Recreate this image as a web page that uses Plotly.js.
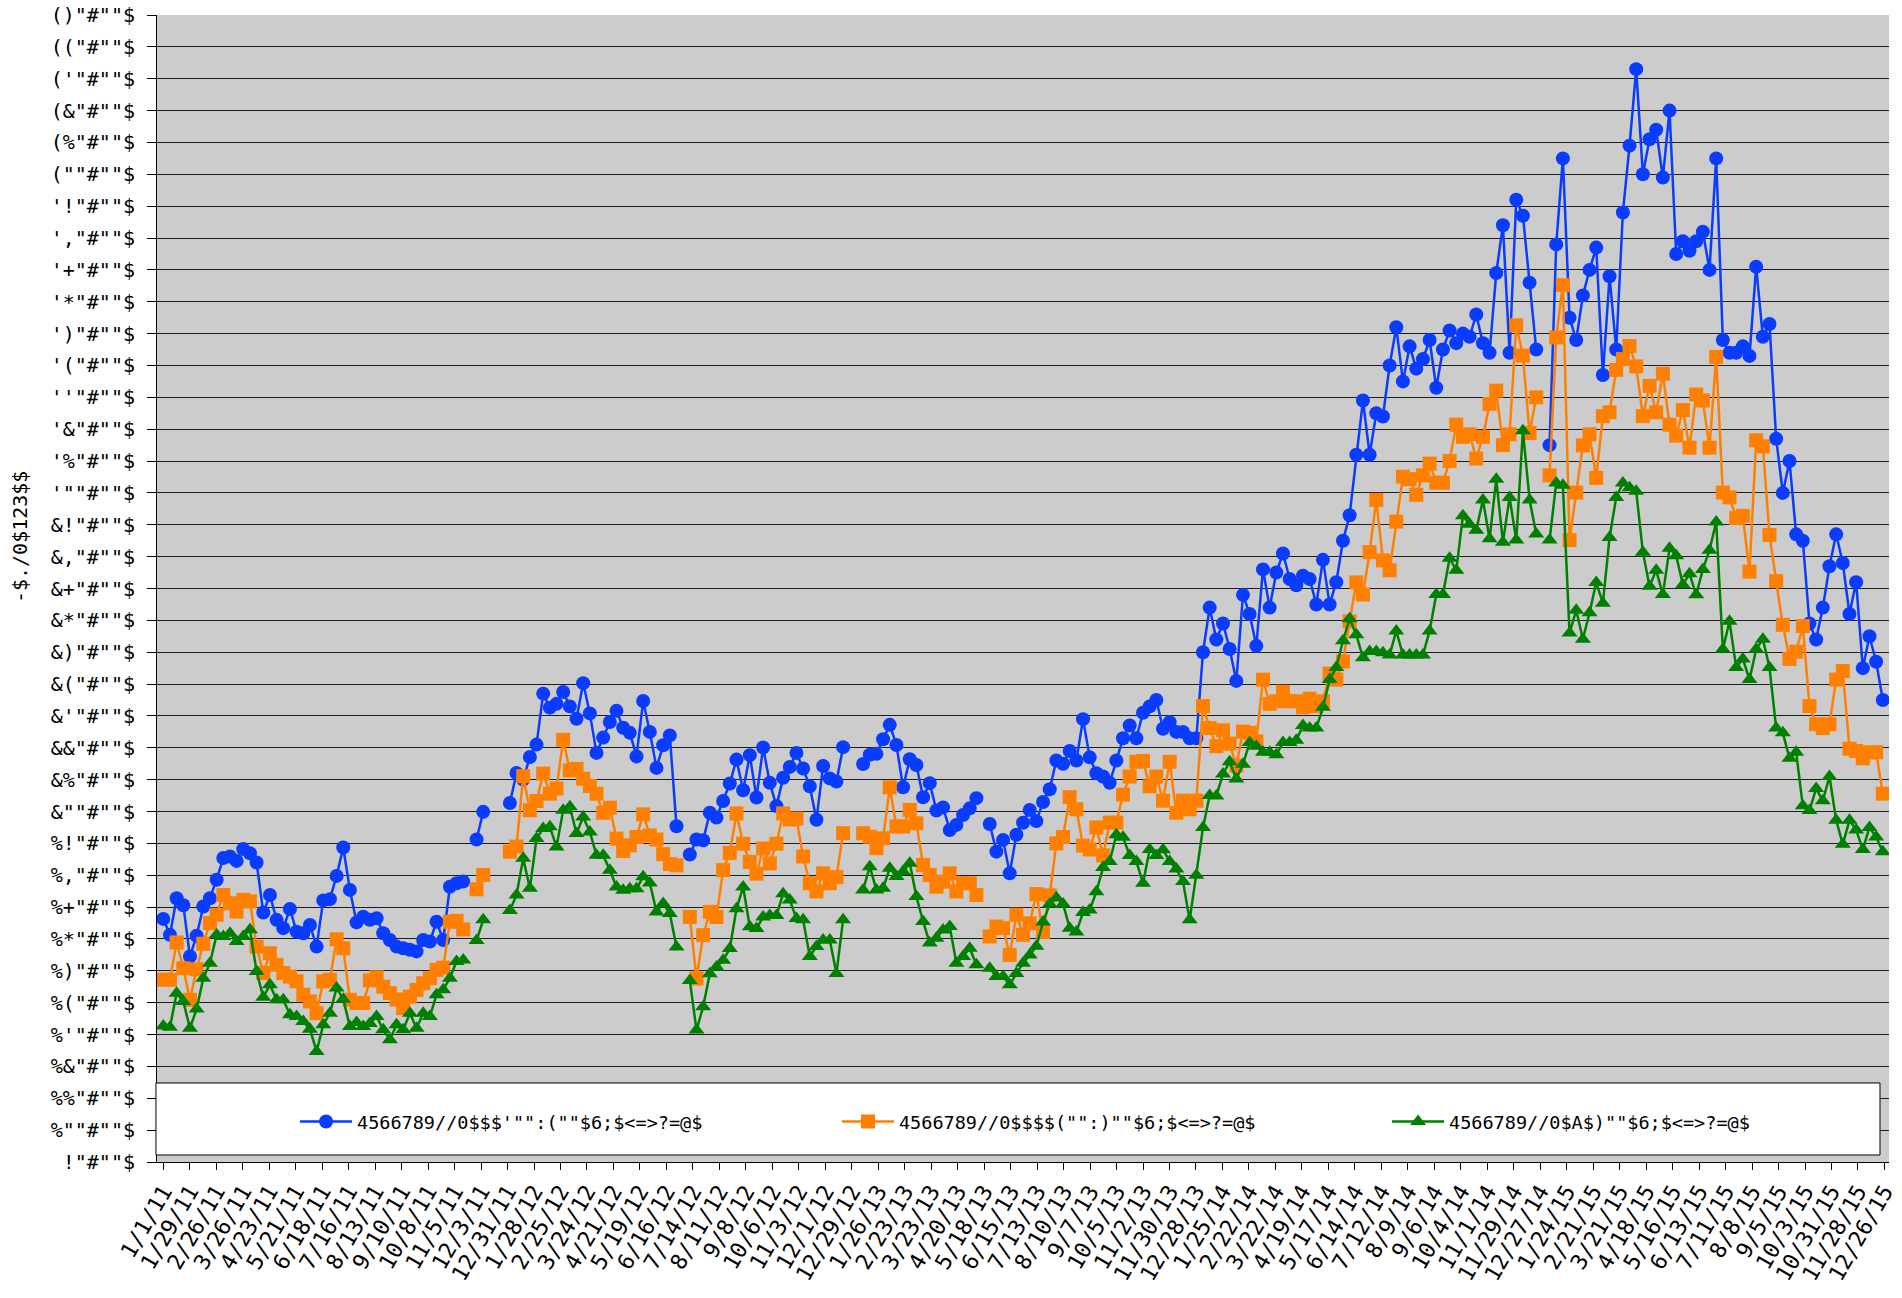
<!DOCTYPE html>
<html>
<head>
<meta charset="utf-8">
<script src="https://cdn.plot.ly/plotly-3.0.1.min.js"></script>
<style>html,body{margin:0;padding:0;background:#fff;}#chart{width:1902px;height:1298px;}</style>
</head>
<body>
<div id="chart"></div>
<script>
// ---- data ----
const seriesNames = [
  "4566789//0$$$'\"\":(\"\"$6;$<=>?=@$",
  "4566789//0$$$$(\"\":)\"\"$6;$<=>?=@$",
  "4566789//0$A$)\"\"$6;$<=>?=@$"
];

const blue = [
166.3,161.3,172.8,170.6,154.5,161,170.2,172.8,178.6,185.4,
185.9,184.5,188.2,186.9,184,168.3,173.8,166,163.4,169.4,
162.3,161.8,164.4,157.6,172.1,172.5,179.8,188.7,175.4,165.2,
167,166,166.5,161.8,159.7,157.6,157.1,156.6,156.1,159.7,
159.2,165.4,159.7,176.4,177.5,178,null,191.2,199.9,null,
null,null,202.7,212.1,210,217.1,221,237,232.6,233.8,
237.5,233,229.1,240.3,230.8,218.4,223.2,228.1,231.6,226.3,
224.7,217.3,234.7,225,213.7,220.8,223.9,195.4,null,186.5,
191.2,191,199.6,198.1,203.3,208.8,216.3,206.7,217.7,204.4,
220.1,209,201.7,210.6,214,218.4,213.5,207.9,197.4,214.3,
210.4,209.4,220.2,null,null,214.9,217.8,218.1,222.7,227.2,
220.9,207.6,216.4,214.6,204.5,208.9,200.3,201.3,194.2,195.8,
198.9,201,204.2,null,196.1,187.4,191.1,180.6,192.7,196.5,
200.5,197,203,207,216,215,219,216,229,
217,212,211,209,216,223,227,223,231,233,
235,226,228,225,225,223,223,250,264,254,
259,251,241,268,262,252,276,264,275,281,
273,271,274,273,265,279,265,272,285,293,
312,329,312,325,324,340,352,335,346,339,
342,348,333,345,351,347,350,349,356,347,
344,369,384,344,392,387,366,345,null,315,
378,405,355,348,362,370,377,337,368,345,
388,409,433,400,411,414,399,420,375,379,
376,379,382,370,405,348,344,344,346,343,
371,349,353,317,300,310,287,285,259,254,
264,277,287,278,262,272,245,255,247,235
];

const orange = [
147.2,147.2,158.9,150.8,140.9,150.5,158.5,165,167.6,173.8,
171.2,168.6,172.3,171.8,157.6,149.3,155.5,151.9,149.3,148.2,
146.7,142.5,140.4,136.7,146.7,147.2,159.9,157.1,140.9,139.9,
139.9,147,148,145,143,141,138.3,141.9,144,146.1,
147.7,150.3,151,165.4,165.7,163,null,175.6,180.1,null,
null,null,187.4,189,211.1,200.4,203.3,211.9,205.6,207.2,
222.5,212.9,213.4,210.3,208,205.6,199.6,201.2,191.5,187.6,
189.4,192,199.1,192.5,191.2,186.6,183.5,183.1,null,166.9,
147.6,161.2,168.5,166.9,181.6,187,199.4,189.9,184.2,180.5,
188.4,183.7,189.9,199.4,197.5,197.8,185.9,177.5,174.9,180.6,
177.5,179.4,193.2,null,null,193.2,192.1,188.5,191.6,207.6,
195.3,195.3,200.5,196.3,183.2,180.1,176.4,178,180.6,174.9,
177.5,177.5,173.8,null,160.8,163.9,163.4,155,167.6,161.3,
164.9,174.1,162.2,173.7,190,192,204.5,200.7,189.3,
188.1,195,186.2,196.5,196.5,205.3,211,215.6,215.9,207.9,
211,203.4,215.6,199.6,203.4,200.7,203.4,233.1,226.2,220.5,
225.5,221.3,214.4,225.1,224.7,222,241.4,233.8,234.6,237.6,
234.6,234.6,232.7,235.4,233.1,234.6,243.3,241.4,247.1,259.7,
271.9,268.1,281.4,297.8,278.8,275.7,291,305.1,304.3,299.4,
305.5,309.2,303.2,303.2,310,321.4,317.6,318.4,310.8,317.6,
327.9,332.1,315,318.4,352.6,343.1,318.8,330,null,305.5,
348.8,365.2,285.2,300.1,314.9,318.4,304.7,324.1,325.3,338.6,
342,346.1,
339.7,324.1,333.6,325.3,337.4,321.4,318,326,314.2,330.9,
329,314.2,342.7,300.1,298.6,292.1,292.8,275.3,316.5,314.6,
286.8,272.3,258.6,247.9,250.2,258.2,233.1,227.4,226.2,227.4,
241.4,244.1,219.7,219,216.7,218.6,218.6,205.6
];

const green = [
132.7,132.3,143,140.4,132,138,147.7,152.4,161.3,160.8,
161.8,159.2,160.8,162.9,149.8,141.7,145.6,140.9,140.9,136.2,
135.7,134.1,131.7,124.7,133.1,136.7,144.6,141.1,132.5,133.8,
132.5,133.5,135.7,131.5,128.4,133.1,131.5,136.7,132,136.7,
135.7,142.5,144.1,147.7,152.9,153.4,null,159.5,166,null,
null,null,168.9,173.8,185.3,175.9,191.5,194.7,195.2,188.9,
200.4,201.5,193.1,198.3,193.6,186.3,186.3,181.6,176.3,175.3,
175.8,175.8,179.5,177.6,168.5,171.1,168,157.5,null,147,
131.4,138.7,149.1,151.2,153.3,157,169.5,176.3,163.8,163.3,
166.9,167.4,167.4,174.2,172.2,166.4,166,154.5,157.6,159.7,
159.7,149.2,166,null,null,175.4,182.7,175.4,175.9,182.2,
179.6,181.2,183.8,173.3,165.5,158.7,160.2,162.8,163.9,152.4,
154.5,157.1,151.9,null,150.8,148.2,148.2,145.6,149.2,152.4,
155,157.7,165.3,171,172.9,171,163.4,162.2,168.3,
169.1,174.8,182.4,184.3,192.7,191.9,186.2,184.3,177.5,188.1,
186.2,188,184.3,182,178,166,180,195,205,204.9,
211.8,215.6,210.2,214.8,221.7,220.5,218.6,218.6,217.8,221.7,
221.7,222.4,227,226.2,226.2,232.7,241.4,245.2,253.6,260.5,
255.5,248.3,250.2,250.2,249.8,249.1,256.7,249.1,249.1,249.1,
249.1,256.7,268.1,268.1,279.5,275.7,292.8,290.2,288.3,297.8,
285.6,304.3,284.5,298.6,285.2,319.5,297.8,287.1,null,285.2,
303.1,302.4,256,263.2,254.1,262.4,271.9,265.4,286,298.6,
303.1,301.6,300.5,281.4,270.7,275.7,268.1,282.6,280.3,271.2,
274.6,268,276,282,
290.9,250.9,259.7,245.2,247.9,241.4,250.9,254.1,245.2,226.2,
224.7,216.7,218.6,201.8,200.3,207.2,203.4,211,197.3,189.7,
197.3,194.2,188.1,195,192,187.4
];

const xTickLabels = [
"1/1/11","1/29/11","2/26/11","3/26/11","4/23/11","5/21/11","6/18/11","7/16/11","8/13/11","9/10/11","10/8/11","11/5/11","12/3/11","12/31/11",
"1/28/12","2/25/12","3/24/12","4/21/12","5/19/12","6/16/12","7/14/12","8/11/12","9/8/12","10/6/12","11/3/12","12/1/12","12/29/12",
"1/26/13","2/23/13","3/23/13","4/20/13","5/18/13","6/15/13","7/13/13","8/10/13","9/7/13","10/5/13","11/2/13","11/30/13","12/28/13",
"1/25/14","2/22/14","3/22/14","4/19/14","5/17/14","6/14/14","7/12/14","8/9/14","9/6/14","10/4/14","11/1/14","11/29/14","12/27/14",
"1/24/15","2/21/15","3/21/15","4/18/15","5/16/15","6/13/15","7/11/15","8/8/15","9/5/15","10/3/15","10/31/15","11/28/15","12/26/15"
];

const yTickVals = [90,100,110,120,130,140,150,160,170,180,190,200,210,220,230,240,250,260,270,280,290,300,310,320,330,340,350,360,370,380,390,400,410,420,430,440,450];
const yTickLabels = [
'!"#""$','%""#""$','%%"#""$','%&"#""$',"%'\"#\"\"$",'%("#""$','%)"#""$','%*"#""$','%+"#""$','%,"#""$','%!"#""$',
'&""#""$','&%"#""$','&&"#""$',"&'\"#\"\"$",'&("#""$','&)"#""$','&*"#""$','&+"#""$','&,"#""$','&!"#""$',
"'\"\"#\"\"$","'%\"#\"\"$","'&\"#\"\"$","''\"#\"\"$","'(\"#\"\"$","')\"#\"\"$","'*\"#\"\"$","'+\"#\"\"$","',\"#\"\"$","'!\"#\"\"$",
'(""#""$','(%"#""$','(&"#""$',"('\"#\"\"$",'(("#""$','()"#""$'
];
const yTitle = "-$./0$123$$";

// ---- drawing ----
const FONT = "DejaVu Sans Mono, Liberation Mono, monospace";
const xIdx = blue.map((_, i) => i);
const tickStep = 3.973;           // label spacing in point units (28 days on the axis)
const colors = ["#0A3CFF", "#FF8000", "#008000"];
const symbols = ["circle", "square", "triangle-up"];
const sizes = [14, 14, 14];
const legendIds = ["legend", "legend2", "legend3"];
const traces = [blue, orange, green].map((ys, k) => ({
  type: "scatter",
  mode: "lines+markers",
  x: xIdx,
  y: ys,
  name: seriesNames[k],
  legend: legendIds[k],
  connectgaps: false,
  line: { color: colors[k], width: 2.5 },
  marker: { color: colors[k], symbol: symbols[k], size: sizes[k], line: { width: 0 } }
}));

function legendAt(x) {
  return {
    orientation: "h",
    x: x, xanchor: "left",
    y: 0.0349, yanchor: "middle",
    bgcolor: "rgba(0,0,0,0)",
    borderwidth: 0,
    itemwidth: 52,
    font: { family: FONT, size: 18.5, color: "#000" }
  };
}

const layout = {
  width: 1902,
  height: 1298,
  margin: { l: 157, r: 13, t: 15, b: 136 },
  paper_bgcolor: "#FFFFFF",
  plot_bgcolor: "#CCCCCC",
  font: { family: FONT, size: 20, color: "#000" },
  showlegend: true,
  legend: legendAt(0.0797),
  legend2: legendAt(0.3926),
  legend3: legendAt(0.7102),
  xaxis: {
    range: [-0.945, 258.93],
    tickmode: "array",
    tickvals: xTickLabels.map((_, k) => k * tickStep),
    ticktext: xTickLabels,
    tickangle: -60,
    ticks: "outside",
    ticklen: 7,
    tickcolor: "#000",
    showline: true,
    linecolor: "#000",
    linewidth: 1,
    showgrid: false,
    zeroline: false,
    automargin: false,
    tickfont: { family: FONT, size: 22, color: "#000" }
  },
  yaxis: {
    range: [90, 450],
    tickmode: "array",
    tickvals: yTickVals,
    ticktext: yTickLabels,
    ticks: "outside",
    ticklen: 9,
    tickcolor: "#000",
    ticklabelstandoff: 8,
    showline: true,
    linecolor: "#000",
    linewidth: 1,
    showgrid: true,
    gridcolor: "#1E1E1E",
    gridwidth: 1,
    zeroline: false,
    automargin: false,
    tickfont: { family: FONT, size: 20, color: "#000" }
  },
  shapes: [{
    type: "rect", xref: "paper", yref: "paper",
    x0: -0.0006, x1: 0.9948, y0: 0.0061, y1: 0.0689,
    fillcolor: "#FFFFFF", line: { color: "#000", width: 1 }, layer: "above"
  }],
  annotations: [{
    text: yTitle, xref: "paper", yref: "paper",
    x: -0.079, y: 0.545, xanchor: "center", yanchor: "middle",
    textangle: -90, showarrow: false,
    font: { family: FONT, size: 20, color: "#000" }
  }]
};

Plotly.newPlot("chart", traces, layout, { displayModeBar: false, staticPlot: true });
</script>
</body>
</html>
